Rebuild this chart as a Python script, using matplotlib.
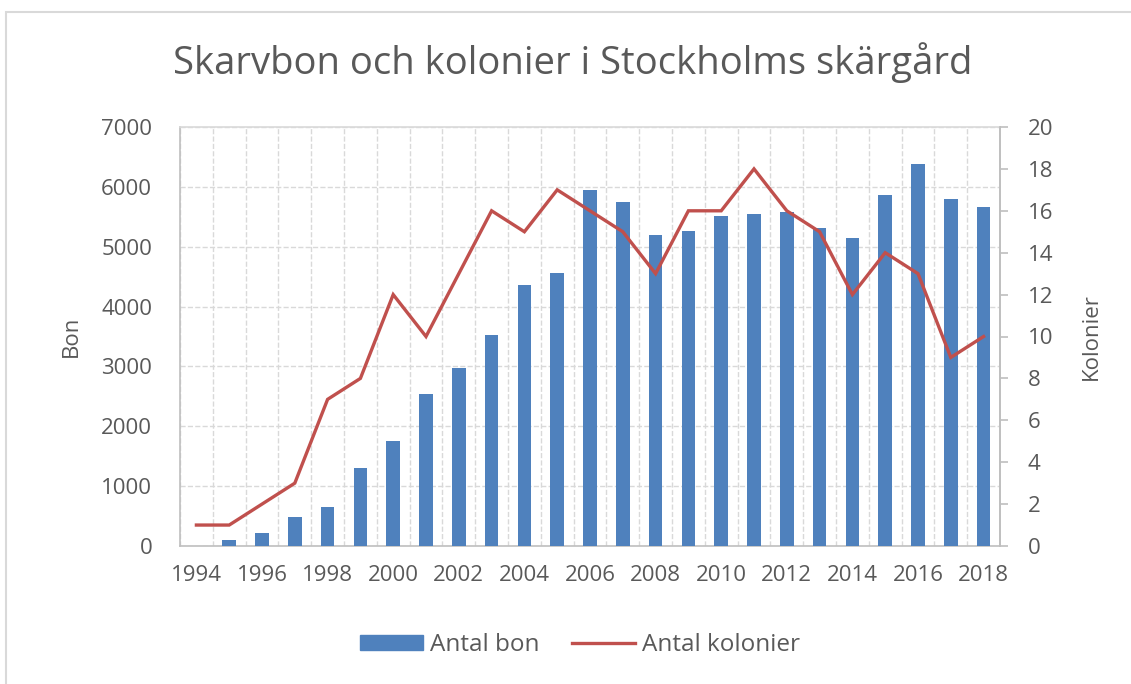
import matplotlib
matplotlib.use('Agg')
import matplotlib.pyplot as plt
from matplotlib.patches import Patch, Rectangle
from matplotlib.lines import Line2D
import numpy as np

# data
years = list(range(1994, 2019))
bon = [0, 100, 210, 490, 650, 1310, 1750, 2540, 2980, 3520, 4360, 4560,
       5940, 5750, 5190, 5270, 5510, 5550, 5580, 5310, 5150, 5860, 6380,
       5790, 5660]
kolonier = [1, 1, 2, 3, 7, 8, 12, 10, 13, 16, 15, 17, 16, 15, 13, 16, 16,
            18, 16, 15, 12, 14, 13, 9, 10]
xlabels = [str(y) for y in years[::2]]

blue = '#4F81BD'
red = '#C0504D'
grey = '#595959'
gridc = '#D9D9D9'
tickfont = ['Open Sans', 'DejaVu Sans']

W, H = 1131, 684
fig = plt.figure(figsize=(W / 100, H / 100), dpi=100)

# outer chart border (light grey)
fig.patches.append(Rectangle((6 / W, -0.1), 1.2, 1 - 12 / H + 0.1,
                             transform=fig.transFigure, fill=False,
                             ec='#D9D9D9', lw=1.5))

ax = fig.add_axes([180 / W, 1 - 546 / H, 820 / W, 419 / H])
x = np.arange(len(years))

ax.bar(x, bon, width=0.42, color=blue, zorder=3)
ax.set_xlim(-0.5, len(years) - 0.5)
ax.set_ylim(0, 7000)
ax.set_yticks(range(0, 7001, 1000))
ax.set_xticks(x[::2])
ax.set_xticklabels(xlabels)
ax.set_xticks(np.arange(-0.5, len(years), 1), minor=True)
ax.grid(axis='y', which='major', color=gridc, ls='--', lw=1, zorder=0)
ax.grid(axis='x', which='minor', color=gridc, ls='--', lw=1, zorder=0)
ax.tick_params(axis='x', which='both', length=0, pad=14)
ax.tick_params(axis='y', length=0, pad=20)
for lab in ax.get_xticklabels() + ax.get_yticklabels():
    lab.set_family(tickfont)
    lab.set_fontsize(16)
    lab.set_color(grey)
for s in ax.spines.values():
    s.set_color('#BFBFBF')
    s.set_linewidth(1.2)
ax.spines['top'].set_color(gridc)
ax.set_ylabel('Bon', family=tickfont, fontsize=16, color=grey, labelpad=14)

ax2 = ax.twinx()
ax2.plot(x, kolonier, color=red, lw=2.4, zorder=4, solid_joinstyle='miter')
ax2.set_ylim(0, 20)
ax2.set_yticks(range(0, 21, 2))
ax2.tick_params(axis='y', length=6, width=1.2, color='#BFBFBF', pad=14)
for lab in ax2.get_yticklabels():
    lab.set_family(tickfont)
    lab.set_fontsize(16)
    lab.set_color(grey)
for s in ax2.spines.values():
    s.set_visible(False)
ax2.spines['right'].set_visible(True)
ax2.spines['right'].set_color('#BFBFBF')
ax2.spines['right'].set_linewidth(1.2)
ax2.set_ylabel('Kolonier', family=tickfont, fontsize=16, color=grey,
               labelpad=20)

fig.text(573 / W, 1 - 63 / H, 'Skarvbon och kolonier i Stockholms skärgård',
         ha='center', va='center', fontsize=27.5, color=grey,
         family=['Open Sans', 'DejaVu Sans'])

handles = [Patch(color=blue), Line2D([], [], color=red, lw=2.4)]
fig.legend(handles, ['Antal bon', 'Antal kolonier'], loc='center',
           bbox_to_anchor=(580 / W, 1 - 645 / H), ncol=2, frameon=False,
           prop={'family': tickfont, 'size': 17.5}, labelcolor=grey,
           handlelength=2.6, handleheight=0.6, handletextpad=0.3,
           columnspacing=1.3)

fig.savefig('out.png', dpi=100)
